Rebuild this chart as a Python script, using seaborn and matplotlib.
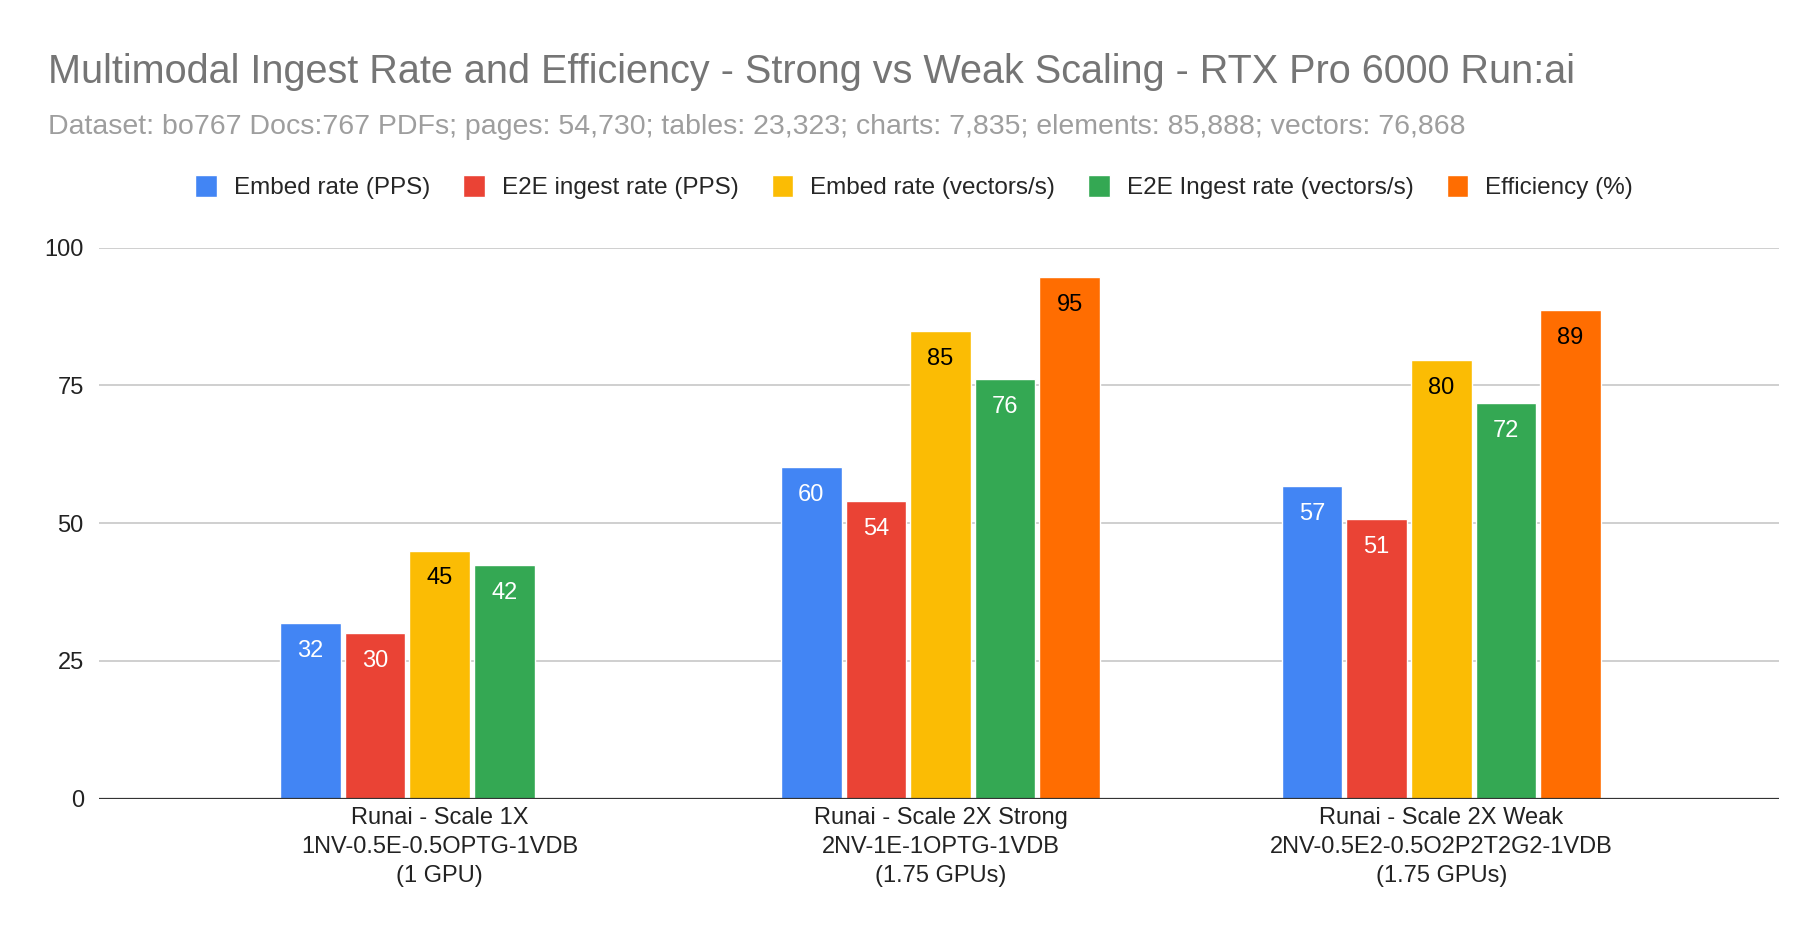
import numpy as np
import pandas as pd
import matplotlib
matplotlib.use("Agg")
import matplotlib.pyplot as plt
import seaborn as sns

# dados
configs = [
    "Runai - Scale 1X\n1NV-0.5E-0.5OPTG-1VDB\n(1 GPU)",
    "Runai - Scale 2X Strong\n2NV-1E-1OPTG-1VDB\n(1.75 GPUs)",
    "Runai - Scale 2X Weak\n2NV-0.5E2-0.5O2P2T2G2-1VDB\n(1.75 GPUs)",
]
series = [
    "Embed rate (PPS)",
    "E2E ingest rate (PPS)",
    "Embed rate (vectors/s)",
    "E2E Ingest rate (vectors/s)",
    "Efficiency (%)",
]
embed_pps = [31.8, 60.2, 56.7]
e2e_pps = [30.0, 54.0, 50.8]
embed_vec = [45.0, 84.8, 79.6]
e2e_vec = [42.3, 76.2, 71.7]
efficiency = [np.nan, 94.6, 88.6]

cores = ["#4285F4", "#EA4335", "#FBBC04", "#34A853", "#FF6D01"]
cor_rotulo = ["white", "white", "black", "white", "black"]

titulo = "Multimodal Ingest Rate and Efficiency - Strong vs Weak Scaling - RTX Pro 6000 Run:ai"
subtitulo = ("Dataset: bo767 Docs:767 PDFs; pages: 54,730; tables: 23,323; charts: 7,835; "
             "elements: 85,888; vectors: 76,868")


def montar_df():
    valores = [embed_pps, e2e_pps, embed_vec, e2e_vec, efficiency]
    linhas = []
    for nome, vals in zip(series, valores):
        for cfg, v in zip(configs, vals):
            linhas.append({"config": cfg, "serie": nome, "valor": v})
    return pd.DataFrame(linhas)


def plot(df):
    sns.set_style("white")
    plt.rcParams["font.family"] = ["Liberation Sans", "DejaVu Sans"]

    fig = plt.figure(figsize=(18.12, 9.34), dpi=100)
    ax = fig.add_axes([0.0547, 0.145, 0.9273, 0.59])

    sns.barplot(data=df, x="config", y="valor", hue="serie", order=configs,
                hue_order=series, palette=cores, width=0.645, gap=0.06,
                saturation=1, ax=ax, legend=True)

    for c, cor in zip(ax.containers, cor_rotulo):
        rotulos = [f"{v:.0f}" if np.isfinite(v) else "" for v in c.datavalues]
        ax.bar_label(c, labels=rotulos, padding=-28, color=cor, fontsize=17)

    ax.set_ylim(0, 100)
    ax.set_xlim(-0.68, 2.675)
    ax.set_yticks([0, 25, 50, 75, 100])
    ax.yaxis.grid(True, color="#cccccc", linewidth=1.3)
    ax.set_axisbelow(True)
    for s in ax.spines.values():
        s.set_visible(False)
    ax.axhline(0, color="#333333", linewidth=1.6, zorder=5)
    ax.tick_params(axis="both", length=0, labelsize=17, colors="#222222")
    ax.tick_params(axis="y", pad=11)
    ax.tick_params(axis="x", pad=6)
    for t in ax.get_xticklabels():
        t.set_linespacing(1.42)
    ax.set_xlabel("")
    ax.set_ylabel("")

    h, l = ax.get_legend_handles_labels()
    ax.legend_.remove()
    fig.legend(h, l, loc="center", bbox_to_anchor=(0.5045, 0.8), ncol=5, frameon=False,
               fontsize=17.5, handlelength=0.9, handleheight=1.05, handletextpad=0.7,
               columnspacing=1.35)

    fig.text(0.0265, 0.923, titulo, fontsize=28.5, color="#757575", va="center", ha="left")
    fig.text(0.0265, 0.864, subtitulo, fontsize=20.5, color="#9e9e9e", va="center", ha="left")

    fig.savefig("out.png", dpi=100)


if __name__ == "__main__":
    df = montar_df()
    plot(df)
